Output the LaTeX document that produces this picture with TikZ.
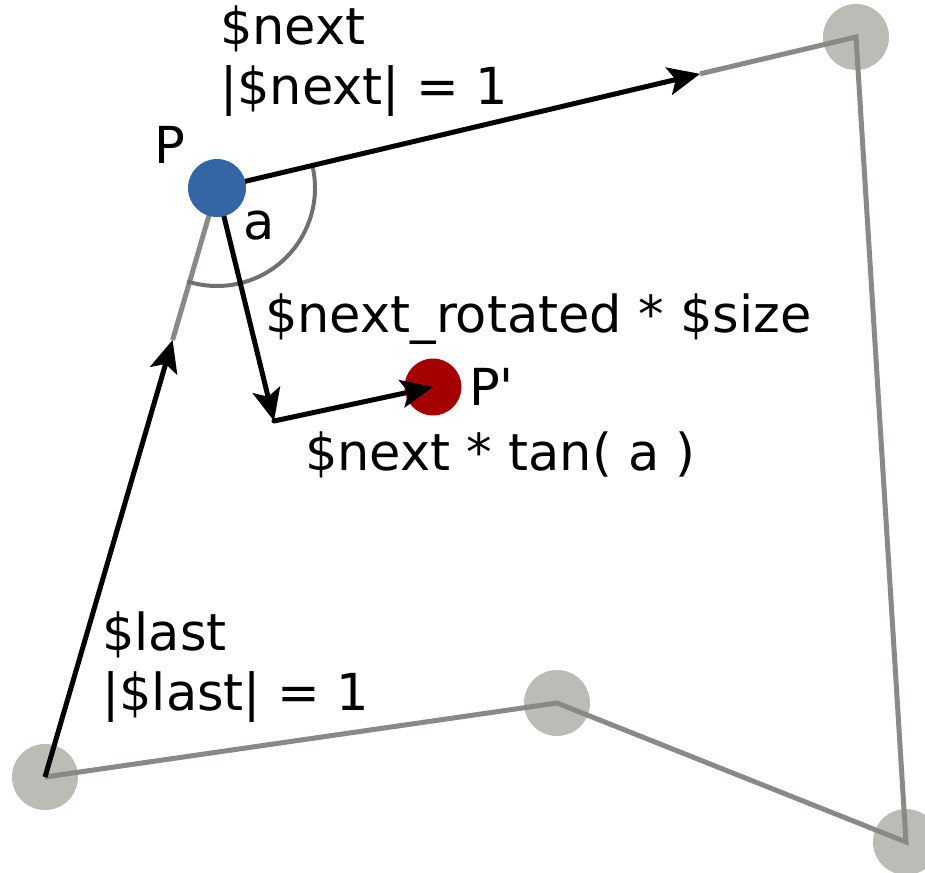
\documentclass[tikz,border=0pt]{standalone}
\usepackage{fontspec}
\newfontfamily\dvs{DejaVu Sans}
\usetikzlibrary{arrows.meta,calc}
\definecolor{dotgrey}{HTML}{BABDB6}
\definecolor{linegrey}{HTML}{888A85}
\definecolor{arcgrey}{HTML}{707070}
\definecolor{pblue}{HTML}{3465A4}
\definecolor{pred}{HTML}{A40000}
\begin{document}
\begin{tikzpicture}[x=1pt,y=-1pt,
  greydot/.style={circle,fill=dotgrey,minimum size=66pt,inner sep=0pt},
  polyline/.style={draw=linegrey,line width=5pt,line join=miter},
  vec/.style={draw=black,line width=5pt,-{Stealth[length=32pt,width=28pt,inset=7pt]}},
  lbl/.style={anchor=base west,inner sep=0pt,font=\dvs\fontsize{51}{60}\selectfont}]
\useasboundingbox (0,0) rectangle (925,872);
% grey vertices
\node[greydot] (g1) at (45,777) {};
\node[greydot] (g2) at (557,703) {};
\node[greydot] (g3) at (856,37) {};
\node[greydot] (g4) at (906,842) {};
% red point
\node[circle,fill=pred,minimum size=57pt,inner sep=0pt] (Pp) at (433,387) {};
% key points
\coordinate (Pc) at (217,188);
\coordinate (lasttip) at ($(g1.center)!0.742!(Pc)$);
\coordinate (nexttip) at ($(Pc)!0.756!(g3.center)$);
\coordinate (bend) at (274,421);
% grey polygon
\draw[polyline] (lasttip) -- (Pc);
\draw[polyline] (nexttip) -- (g3.center) -- (g4.center) -- (g2.center) -- (g1.center);
% angle arc
\draw[arcgrey,line width=4pt] ($(Pc)+(-13.5:98)$) arc[start angle=-13.5,end angle=107.7,radius=98];
% vectors
\draw[vec] (g1.center) -- (lasttip);
\draw[vec] (Pc) -- (nexttip);
\draw[vec] (Pc) -- (bend);
\draw[vec,line cap=round] (bend) -- (Pp.center);
% blue point
\node[circle,fill=pblue,minimum size=58pt,inner sep=0pt] (P) at (Pc) {};
% labels
\node[lbl] (l1) at (220,45) {\$next};
\node[lbl] (l2) at (220,105) {|\$next| = 1};
\node[lbl] (lP) at (154,163) {P};
\node[lbl] (la) at (243,239) {a};
\node[lbl] (l3) at (265,332) {\$next\_rotated * \$size};
\node[lbl] (lPp) at (469,405) {P'};
\node[lbl] (l4) at (305,470) {\$next * tan( a )};
\node[lbl] (l5) at (102,650) {\$last};
\node[lbl] (l6) at (102,710) {|\$last| = 1};
\end{tikzpicture}
\end{document}
